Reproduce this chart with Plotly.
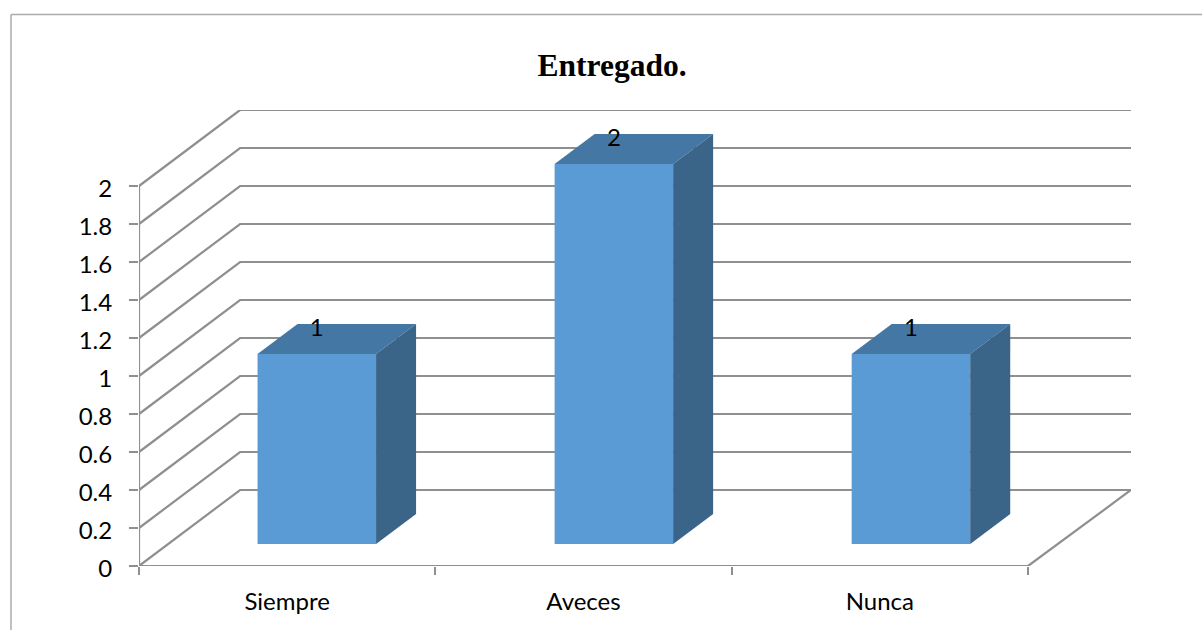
import plotly.graph_objects as go

# Data
categories = ["Siempre", "Aveces", "Nunca"]
values = [1, 2, 1]
value_labels = ["1", "2", "1"]
y_ticks = [0, 0.2, 0.4, 0.6, 0.8, 1, 1.2, 1.4, 1.6, 1.8, 2]
y_tick_labels = ["0", "0.2", "0.4", "0.6", "0.8", "1", "1.2", "1.4", "1.6", "1.8", "2"]
title_text = "Entregado."

# Pseudo-3D geometry in axis units
X_MAX = 3.3476
Y_MAX = 2.4
WALL_DX = 0.341
WALL_DY = 0.4
BAR_W = 0.4
BAR_BASE = 0.116
BAR_DX = 0.135
BAR_DY = 0.158
BAR_START = 0.6
BAR_PITCH = 1.0025
n = len(categories)
centers = [BAR_START + i * BAR_PITCH for i in range(n)]

# Layout: the paper area reaches 19px below the chart floor so the tick-label
# axis can run on a scale shifted a few pixels down.
M_T, M_B, M_L, M_R = 110, 45, 139, 71
PAPER_H = 630 - M_T - M_B
PAPER_W = 1202 - M_L - M_R
FLOOR_GAP = 19
PX_PER_UNIT = (PAPER_H - FLOOR_GAP) / Y_MAX
LABEL_SHIFT_PX = 3
main_domain = [FLOOR_GAP / PAPER_H, 1]
label_range = [-(FLOOR_GAP - LABEL_SHIFT_PX) / PX_PER_UNIT, Y_MAX + LABEL_SHIFT_PX / PX_PER_UNIT]

GRID = "#8f8f8f"
FRONT = "#5b9bd5"
TOP = "#4577a4"
SIDE = "#3a6488"
FONT = "Lato, Carlito, sans-serif"

# Walls: floor diagonal + back-wall line for every tick, plus axis frame
gx, gy = [], []
for t in y_ticks:
    gx += [0, WALL_DX, n + WALL_DX + 0.0066, None]
    gy += [t, t + WALL_DY, t + WALL_DY, None]
gx += [0, 0, None, 0, n, n + WALL_DX + 0.0066]
gy += [y_ticks[-1], 0, None, 0, 0, WALL_DY]

fig = go.Figure()
fig.add_trace(go.Scatter(x=gx, y=gy, mode="lines", line=dict(color=GRID, width=2.2),
                         cliponaxis=False, hoverinfo="skip", showlegend=False))

# Front faces (on overlay axes so they sit above the walls)
fig.add_trace(go.Bar(x=centers, y=values, base=[BAR_BASE] * n, width=BAR_W,
                     marker=dict(color=FRONT, line=dict(width=0)),
                     xaxis="x2", yaxis="y2", hoverinfo="skip", showlegend=False))

# Top and side faces
for c, v in zip(centers, values):
    l, r = c - BAR_W / 2, c + BAR_W / 2
    b, t = BAR_BASE, BAR_BASE + v
    fig.add_trace(go.Scatter(
        x=[l, r, r + BAR_DX, l + BAR_DX, l], y=[t, t, t + BAR_DY, t + BAR_DY, t],
        mode="lines", fill="toself", fillcolor=TOP, line=dict(width=0, color=TOP),
        xaxis="x2", yaxis="y2", hoverinfo="skip", showlegend=False))
    fig.add_trace(go.Scatter(
        x=[r, r + BAR_DX, r + BAR_DX, r, r], y=[b, b + BAR_DY, t + BAR_DY, t, b],
        mode="lines", fill="toself", fillcolor=SIDE, line=dict(width=0, color=SIDE),
        xaxis="x2", yaxis="y2", hoverinfo="skip", showlegend=False))

# Data labels
fig.add_trace(go.Scatter(
    x=centers, y=[v + 0.24 for v in values], text=value_labels, mode="text",
    textposition="middle center", textfont=dict(family=FONT, size=24, color="#000000"),
    xaxis="x2", yaxis="y2", hoverinfo="skip", showlegend=False))

# Invisible anchor that makes the label-only y axis render
fig.add_trace(go.Scatter(x=[0], y=[0], mode="markers", opacity=0, xaxis="x", yaxis="y3",
                         hoverinfo="skip", showlegend=False))

border_y = (630 - M_B - 14.5) / PAPER_H
border_x = (11 - M_L) / PAPER_W

fig.update_layout(
    width=1202, height=630, autosize=False,
    margin=dict(l=M_L, r=M_R, t=M_T, b=M_B, pad=0),
    paper_bgcolor="#ffffff", plot_bgcolor="rgba(0,0,0,0)",
    showlegend=False, barmode="overlay",
    title=dict(text=f"<b>{title_text}</b>", x=612 / 1202, xanchor="center",
               y=1 - 65 / 630, yanchor="middle",
               font=dict(family="Liberation Serif, serif", size=31.5, color="#000000")),
    xaxis=dict(range=[0, X_MAX], tickmode="array", anchor="y",
               tickvals=[i + 0.5 for i in range(n)], ticktext=categories,
               showgrid=False, zeroline=False, showline=False,
               ticks="outside", ticklen=14, tickcolor="rgba(0,0,0,0)",
               tickfont=dict(family=FONT, size=24, color="#000000")),
    yaxis=dict(range=[0, Y_MAX], domain=main_domain, tickmode="array",
               tickvals=y_ticks, ticktext=[""] * len(y_ticks),
               showgrid=False, zeroline=False, showline=False,
               ticks="outside", ticklen=9, tickwidth=1.5, tickcolor=GRID),
    xaxis2=dict(range=[0, X_MAX], overlaying="x", anchor="y2", side="bottom",
                tickmode="array", tickvals=list(range(n + 1)), ticktext=[""] * (n + 1),
                showgrid=False, zeroline=False, showline=False,
                ticks="outside", ticklen=8, tickwidth=1.5, tickcolor=GRID),
    yaxis2=dict(range=[0, Y_MAX], domain=main_domain, overlaying="y", anchor="x2", visible=False),
    yaxis3=dict(range=label_range, domain=[0, 1], anchor="x", side="left",
                tickmode="array", tickvals=y_ticks, ticktext=y_tick_labels,
                showgrid=False, zeroline=False, showline=False,
                ticks="outside", ticklen=9, tickcolor="rgba(0,0,0,0)",
                ticklabelstandoff=12,
                tickfont=dict(family=FONT, size=24, color="#000000")),
    shapes=[
        dict(type="line", xref="paper", yref="paper",
             x0=border_x, x1=1063 / PAPER_W, y0=border_y, y1=border_y,
             line=dict(color="#ababab", width=1.5)),
        dict(type="line", xref="paper", yref="paper",
             x0=border_x, x1=border_x, y0=border_y, y1=-M_B / PAPER_H,
             line=dict(color="#ababab", width=1.5)),
    ],
)

fig.write_html("out.html", config={"displayModeBar": False},
               post_script="document.body.style.margin='0';document.documentElement.style.overflow='hidden';window.dispatchEvent(new Event('resize'));")
